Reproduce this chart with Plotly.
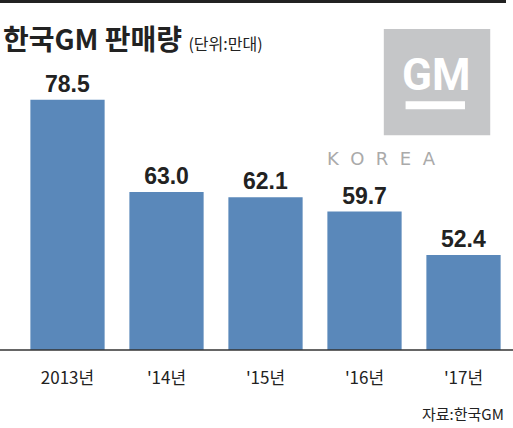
import plotly.graph_objects as go

years = ["2013년", "'14년", "'15년", "'16년", "'17년"]
sales = [78.5, 63.0, 62.1, 59.7, 52.4]
labels = ["<b>78.5</b>", "<b>63.0</b>", "<b>62.1</b>", "<b>59.7</b>", "<b>52.4</b>"]

fig = go.Figure(go.Bar(
    x=years, y=sales, text=labels, textposition="outside",
    textfont=dict(family="Liberation Sans", size=23, color="#222"),
    marker=dict(color="#5a88ba", line=dict(width=0)),
    cliponaxis=False,
))

fig.update_layout(
    width=513, height=425, margin=dict(l=18, r=0, t=3, b=78),
    plot_bgcolor="white", paper_bgcolor="white", bargap=0.25, showlegend=False,
    xaxis=dict(showline=False, ticks="", ticklabelstandoff=16,
               tickfont=dict(family="Noto Sans CJK KR", size=17, color="#222")),
    yaxis=dict(range=[36.4, 94.3], visible=False, showgrid=False),
    font=dict(family="Noto Sans CJK KR"),
)

# baseline
fig.add_shape(type="line", xref="paper", yref="paper", x0=-0.04, x1=1.0, y0=0, y1=0,
              line=dict(color="#333", width=1.5))

# title
fig.add_annotation(xref="paper", yref="paper", x=-0.035, y=0.97, xanchor="left", yanchor="top",
                   showarrow=False,
                   text="<b>한국GM 판매량</b> <span style='font-size:16px'>(단위:만대)</span>",
                   font=dict(size=28, color="#222", family="Noto Sans CJK KR"))

# GM logo
fig.add_shape(type="rect", xref="paper", yref="paper", x0=0.739, x1=0.954, y0=0.624, y1=0.933,
              fillcolor="#c5c6c8", line=dict(width=0), layer="above")
fig.add_annotation(xref="paper", yref="paper", x=0.846, y=0.882, xanchor="center", yanchor="top",
                   showarrow=False,
                   text="GM", font=dict(size=44, color="white", family="Roboto", weight="bold"))
fig.add_shape(type="rect", xref="paper", yref="paper", x0=0.783, x1=0.903, y0=0.7, y1=0.723,
              fillcolor="white", line=dict(width=0), layer="above")
fig.add_annotation(xref="paper", yref="paper", x=0.848, y=0.558, showarrow=False,
                   text="K  O  R  E  A", font=dict(size=18, color="#aaa", family="DejaVu Sans"))

# source
fig.add_annotation(xref="paper", yref="paper", x=0.985, y=-0.185, xanchor="right", yanchor="middle",
                   showarrow=False, text="자료:한국GM",
                   font=dict(size=15, color="#222", family="Noto Sans CJK KR"))

# top rule drawn as a page border on the chart div
post = ("document.body.style.margin='0';"
        "var d=document.getElementsByClassName('plotly-graph-div')[0];"
        "d.style.borderTop='3px solid #222';d.style.width='506px';")

fig.write_html("out.html", config={"displayModeBar": False}, post_script=post)
